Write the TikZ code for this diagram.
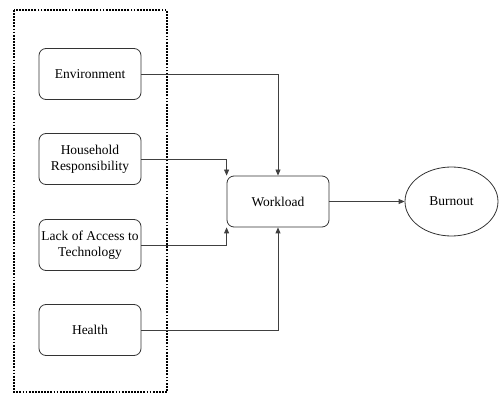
\documentclass[tikz,border=0pt]{standalone}
\usepackage{fontspec}
\setmainfont{Liberation Serif}
\usetikzlibrary{shapes.geometric,arrows.meta}
\begin{document}
\begin{tikzpicture}[x=1pt,y=-1pt,
  txt/.style={font=\rmfamily\fontsize{13.5}{16}\selectfont},
  box/.style={txt,draw=black!80,line width=0.8pt,rounded corners=7pt,minimum width=102pt,minimum height=51pt,align=center,inner sep=1pt},
  conn/.style={draw=black!75,line width=0.8pt,-{Triangle[length=6pt,width=5pt]}}]
\useasboundingbox (0,0) rectangle (499,396);
\draw[line width=2.2pt,dash pattern=on 1.8pt off 1.3pt] (14,10) rectangle (167,392);
\node[box] (env) at (90,74) {Environment};
\node[box] (house) at (90,159) {Household\\Responsibility};
\node[box] (lack) at (90,245) {Lack of Access to\\Technology};
\node[box] (health) at (90,330) {Health};
\node[box] (work) at (278,201.5) {Workload};
\node[txt,draw=black!80,line width=0.8pt,ellipse,minimum width=93pt,minimum height=69pt,inner sep=0pt] (burn) at (451.5,201.5) {Burnout};
\draw[conn] (env.east) -| (work.north);
\draw[conn] (house.east) -| (work.north west);
\draw[conn] (lack.east) -| (work.south west);
\draw[conn] (health.east) -| (work.south);
\draw[conn] (work.east) -- (burn.west);
\end{tikzpicture}
\end{document}
